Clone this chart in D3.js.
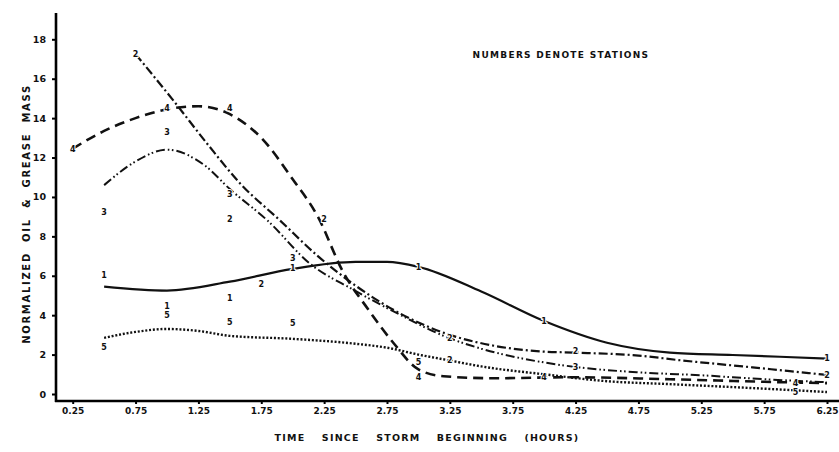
<!DOCTYPE html>
<html>
<head>
<meta charset="utf-8">
<script src="https://cdn.jsdelivr.net/npm/d3@7"></script>
<style>
  body { margin: 0; background: #fff; }
  svg { display: block; }
  text { font-family: "DejaVu Sans", sans-serif; font-weight: bold; fill: #111; }
</style>
</head>
<body>
<svg width="839" height="452"></svg>
<script>
// fitted curves, [time (h), normalized mass]
const fit1 = [[0.5,5.45],[1.0,5.25],[1.5,5.7],[2.0,6.35],[2.5,6.7],[2.75,6.7],[3.0,6.45],[3.5,5.2],[4.0,3.7],[4.5,2.6],[5.0,2.1],[5.5,1.98],[6.25,1.8]];
const fit2 = [[0.75,17.25],[1.05,14.9],[1.32,12.7],[1.58,10.7],[1.9,8.8],[2.2,7.0],[2.5,5.5],[2.85,4.1],[3.25,3.0],[3.6,2.45],[4.0,2.15],[4.25,2.1],[4.75,1.95],[5.1,1.7],[5.5,1.45],[6.25,0.97]];
const fit3 = [[0.5,10.6],[0.75,11.8],[1.0,12.4],[1.3,11.6],[1.5,10.4],[1.8,8.8],[2.14,6.6],[2.48,5.3],[2.83,4.1],[3.22,2.9],[3.5,2.3],[4.0,1.6],[4.25,1.37],[4.75,1.1],[5.25,0.95],[5.75,0.75],[6.25,0.6]];
const fit4 = [[0.25,12.45],[0.5,13.35],[0.75,14.0],[1.0,14.45],[1.25,14.6],[1.5,14.2],[1.75,13.0],[2.0,10.9],[2.2,9.0],[2.4,6.2],[2.6,4.3],[2.8,2.6],[3.0,1.25],[3.2,0.9],[3.6,0.8],[4.2,0.85],[5.0,0.75],[5.75,0.62],[6.25,0.55]];
const fit5 = [[0.5,2.85],[0.75,3.15],[1.0,3.3],[1.25,3.2],[1.5,2.95],[2.0,2.8],[2.5,2.55],[2.75,2.35],[3.0,2.0],[3.25,1.7],[3.5,1.4],[4.0,1.0],[4.5,0.65],[5.0,0.5],[5.5,0.35],[6.25,0.1]];

// observations: [station, time, mass]
const obs = [
  ["1",0.5,6.05],["1",1.0,4.45],["1",1.5,4.85],["1",2.0,6.4],["1",3.0,6.45],["1",4.0,3.7],["1",6.25,1.8],
  ["2",0.75,17.25],["2",1.5,8.9],["2",1.75,5.6],["2",2.25,8.9],["2",3.25,2.85],["2",3.25,1.7],["2",4.25,2.2],["2",6.25,0.97],
  ["3",0.5,9.25],["3",1.0,13.3],["3",1.5,10.15],["3",2.0,6.9],["3",4.25,1.37],
  ["4",0.25,12.45],["4",1.0,14.5],["4",1.5,14.5],["4",3.0,0.86],["4",4.0,0.86],["4",6.0,0.56],
  ["5",0.5,2.4],["5",1.0,4.0],["5",1.5,3.65],["5",2.0,3.6],["5",3.0,1.6],["5",6.0,0.1]
];

const xTicks = [0.25,0.75,1.25,1.75,2.25,2.75,3.25,3.75,4.25,4.75,5.25,5.75,6.25];
const yTicks = [0,2,4,6,8,10,12,14,16,18];

const svg = d3.select("svg");
const axLeft = 56, axRight = 839, axTop = 13, axBottom = 401;

const x = d3.scaleLinear().domain([0.25, 6.25]).range([72.7, 827]);
const y = d3.scaleLinear().domain([0, 18]).range([394, 39.3]);

// axes
const gy = svg.append("g")
    .attr("transform", `translate(${axLeft},0)`)
    .call(d3.axisLeft(y).tickValues(yTicks).tickSize(4).tickPadding(6).tickFormat(d3.format("d")));
gy.select(".domain").remove();
gy.selectAll("text").style("font-size", "9.5px").style("font-family", "DejaVu Sans").style("font-weight", "bold");
gy.selectAll("line").attr("stroke-width", 2);

const gx = svg.append("g")
    .attr("transform", `translate(0,${axBottom})`)
    .call(d3.axisBottom(x).tickValues(xTicks).tickSize(3).tickPadding(4).tickFormat(d3.format(".2f")));
gx.select(".domain").remove();
gx.selectAll("text").style("font-size", "9px").style("font-family", "DejaVu Sans").style("font-weight", "bold");
gx.selectAll("line").attr("stroke-width", 2);

svg.append("line").attr("x1", axLeft).attr("x2", axLeft).attr("y1", axTop).attr("y2", axBottom + 1)
    .attr("stroke", "#000").attr("stroke-width", 2.6);
svg.append("line").attr("x1", axLeft - 1).attr("x2", axRight).attr("y1", axBottom).attr("y2", axBottom)
    .attr("stroke", "#000").attr("stroke-width", 2.6);

// fitted curves
const styles = [
  { data: fit1, dash: null, w: 2.2 },
  { data: fit2, dash: "9,3,2,3", w: 2.2 },
  { data: fit3, dash: "9,3,1.6,2.5,1.6,3", w: 2 },
  { data: fit4, dash: "10,6", w: 2.6 },
  { data: fit5, dash: "2,1.8", w: 2.4 }
];

const line = d3.line()
    .x(d => x(d[0]))
    .y(d => y(d[1]))
    .curve(d3.curveMonotoneX);

svg.append("g")
  .selectAll("path")
  .data(styles)
  .join("path")
    .attr("fill", "none")
    .attr("stroke", "#111")
    .attr("stroke-width", d => d.w)
    .attr("stroke-dasharray", d => d.dash)
    .attr("d", d => line(d.data));

// station numbers
svg.append("g")
  .selectAll("text")
  .data(obs)
  .join("text")
    .attr("x", d => x(d[1]))
    .attr("y", d => y(d[2]))
    .attr("dy", "0.36em")
    .attr("text-anchor", "middle")
    .style("font-size", "8px")
    .style("paint-order", "stroke")
    .attr("stroke", "#fff")
    .attr("stroke-width", 2)
    .text(d => d[0]);

// titles
svg.append("text")
    .attr("x", 561).attr("y", 58)
    .attr("text-anchor", "middle")
    .style("font-size", "9px")
    .style("letter-spacing", "1.3px")
    .text("NUMBERS DENOTE STATIONS");

svg.append("text")
    .attr("transform", "translate(30,214) rotate(-90)")
    .attr("text-anchor", "middle")
    .style("font-size", "10px")
    .style("letter-spacing", "1.7px")
    .style("word-spacing", "5px")
    .text("NORMALIZED OIL & GREASE MASS");

svg.append("text")
    .attr("x", 427).attr("y", 441)
    .attr("text-anchor", "middle")
    .style("font-size", "9.5px")
    .style("letter-spacing", "1.2px")
    .style("word-spacing", "12px")
    .text("TIME SINCE STORM BEGINNING (HOURS)");
</script>
</body>
</html>
